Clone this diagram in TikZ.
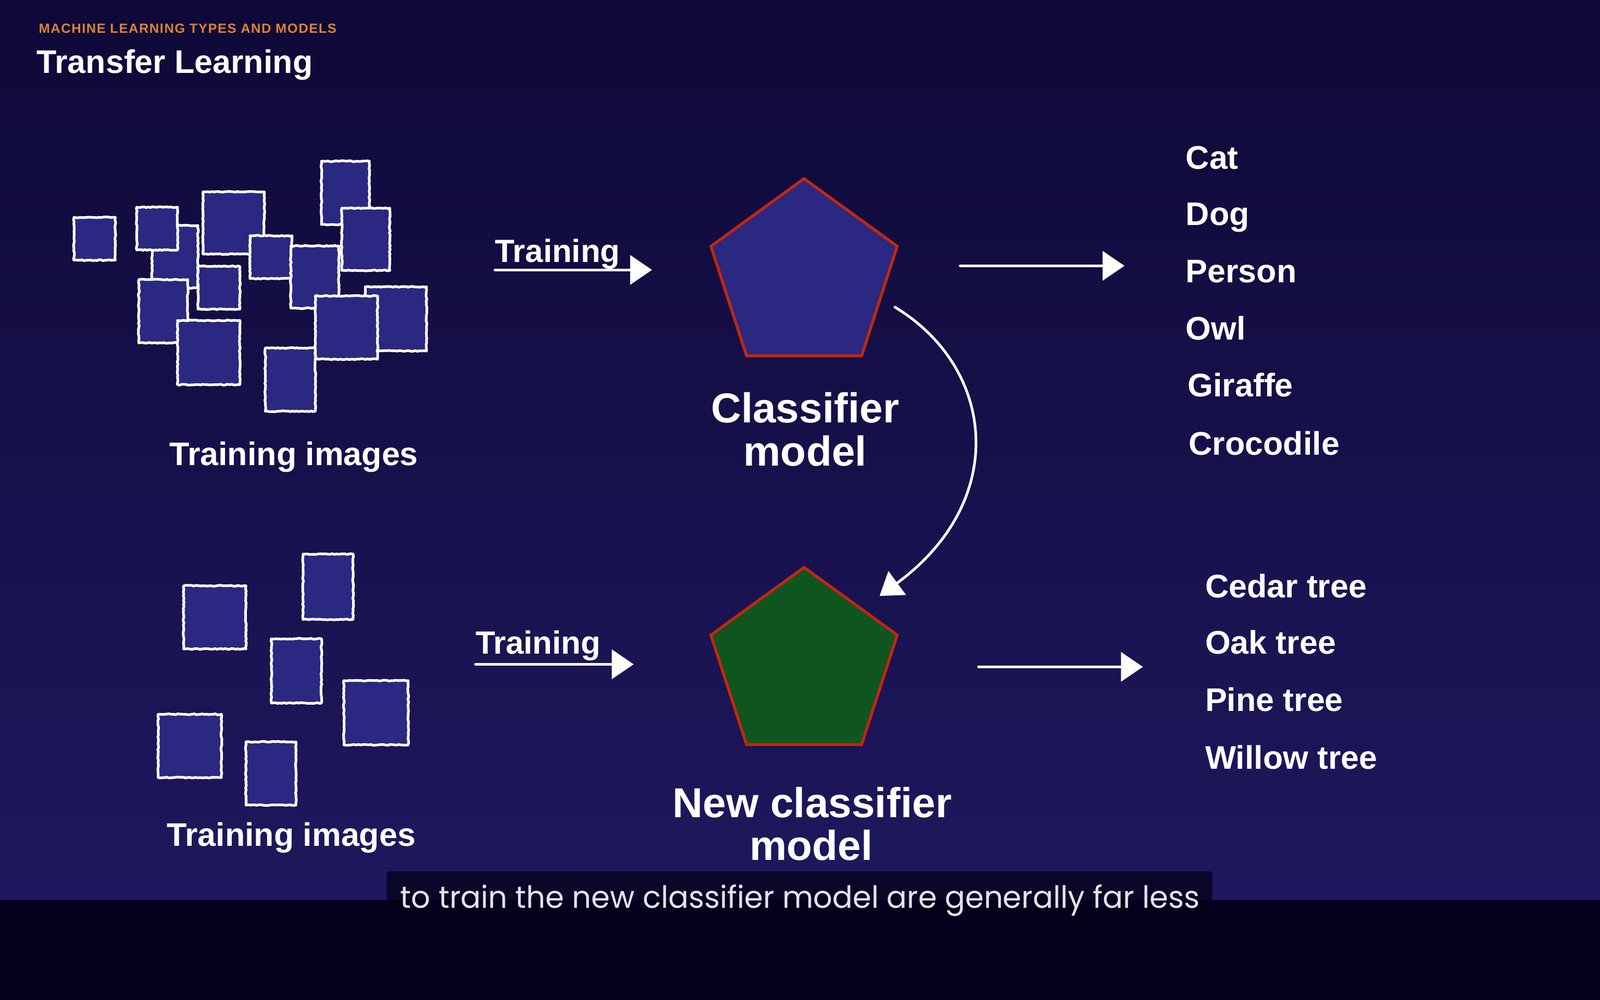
\documentclass[tikz,border=0pt]{standalone}
\usepackage{fontspec}
\setmainfont{Liberation Sans}
\newfontfamily\capfont[FakeStretch=0.98]{Poppins}
\newfontfamily\subfont[LetterSpace=6]{Liberation Sans}
\usetikzlibrary{arrows.meta,shapes.geometric,decorations.pathmorphing}
\definecolor{bgtop}{HTML}{0E0937}
\definecolor{bgbot}{HTML}{1E185E}
\definecolor{band}{HTML}{03001B}
\definecolor{capbox}{HTML}{0A0728}
\definecolor{sqblue}{HTML}{2A2880}
\definecolor{pgreen}{HTML}{0F5520}
\definecolor{redb}{HTML}{C3260F}
\definecolor{orng}{HTML}{E0832E}
\definecolor{captxt}{HTML}{E4E3EE}
\tikzset{
  chalkline/.style={draw=white, line width=5pt, line join=round,
    decorate, decoration={random steps, segment length=4pt, amplitude=0.9pt}},
  chalkarrow/.style={draw=white, line width=5pt, line cap=round,
    -{Triangle[length=42pt,width=56pt]}},
  pent/.style={regular polygon, regular polygon sides=5, minimum size=376pt,
    inner sep=0pt, draw=redb, line width=5.5pt},
  lbl/.style={text=white, font=\fontsize{62.7pt}{66pt}\selectfont\bfseries, inner sep=0pt},
  big/.style={text=white, font=\fontsize{80.3pt}{84pt}\selectfont\bfseries, inner sep=0pt},
}
\newcommand\chalksq[4]{%
  \fill[sqblue] (#1,#2) rectangle (#3,#4);
  \path[chalkline] (#1,#2) rectangle (#3,#4);}
\begin{document}
\begin{tikzpicture}[x=1.959pt,y=-1.959pt]
\useasboundingbox (0,0) rectangle (1568,980);
% background
\shade[top color=bgtop, bottom color=bgbot] (0,0) rectangle (1568,882);
\fill[band] (0,882) rectangle (1568,980);
% header
\node[anchor=base west, inner sep=0pt, text=orng,
  font=\fontsize{25.5pt}{27pt}\subfont\bfseries] (sub) at (38,32.3)
  {MACHINE LEARNING TYPES AND MODELS};
\node[anchor=base west, inner sep=0pt, text=white,
  font=\fontsize{62.7pt}{66pt}\selectfont\bfseries] (title) at (36,71.5)
  {Transfer Learning};
% top cluster of training images
\chalksq{72.5}{213}{113}{255}
\chalksq{149}{221}{194}{282}
\chalksq{134}{203}{174}{245}
\chalksq{199}{188}{259}{249}
\chalksq{245}{231}{286}{273}
\chalksq{194}{261}{235}{303}
\chalksq{136}{274}{184}{336}
\chalksq{174}{314}{235}{377}
\chalksq{315}{158}{362}{220}
\chalksq{335}{204}{382}{265}
\chalksq{285}{241}{332}{302}
\chalksq{358}{281}{418}{344}
\chalksq{309}{290}{370}{352}
\chalksq{260}{341}{309}{403}
\node[lbl, anchor=base west] (timg1) at (166,456) {Training images};
% bottom cluster of training images
\chalksq{180}{574}{241}{636}
\chalksq{297}{543}{346}{607}
\chalksq{266}{626}{315}{689}
\chalksq{337}{667}{400}{730}
\chalksq{155}{700}{217}{762}
\chalksq{241}{727}{290}{789}
\node[lbl, anchor=base west] (timg2) at (163.5,829) {Training images};
% training arrows
\node[lbl, anchor=base west, font=\fontsize{61.7pt}{64pt}\selectfont\bfseries] (tr1) at (485,257) {Training};
\coordinate (t1s) at (485,264.5);
\coordinate (t1e) at (639,264.5);
\draw[chalkarrow] (t1s) -- (t1e);
\node[lbl, anchor=base west, font=\fontsize{61.7pt}{64pt}\selectfont\bfseries] (tr2) at (466,641) {Training};
\coordinate (t2s) at (466,651);
\coordinate (t2e) at (621,651);
\draw[chalkarrow] (t2s) -- (t2e);
% classifier pentagons
\node[pent, fill=sqblue] (clf) at (788,271) {};
\node[pent, fill=pgreen] (nclf) at (788,652) {};
\node[big, anchor=base] (clfa) at (789,414) {Classifier};
\node[big, anchor=base] (clfb) at (789,456.4) {model};
\node[big, anchor=base] (nclfa) at (796,801) {New classifier};
\node[big, anchor=base] (nclfb) at (795,843) {model};
% transfer arrow
\coordinate (cs) at (877,301);
\coordinate (ce) at (862,584);
\draw[chalkarrow] (cs) .. controls (975,360) and (990,490) .. (ce);
% output arrows
\coordinate (o1s) at (941,260.5);
\coordinate (o1e) at (1102,260.5);
\draw[chalkarrow] (o1s) -- (o1e);
\coordinate (o2s) at (959,653.5);
\coordinate (o2e) at (1120,653.5);
\draw[chalkarrow] (o2s) -- (o2e);
% class lists
\node[lbl, anchor=base west] (cat) at (1162,165.5) {Cat};
\node[lbl, anchor=base west] (dog) at (1162,221) {Dog};
\node[lbl, anchor=base west] (person) at (1162,277) {Person};
\node[lbl, anchor=base west] (owl) at (1162,333) {Owl};
\node[lbl, anchor=base west] (giraffe) at (1164,388.6) {Giraffe};
\node[lbl, anchor=base west] (croc) at (1165,445.6) {Crocodile};
\node[lbl, anchor=base west] (cedar) at (1181,585.5) {Cedar tree};
\node[lbl, anchor=base west] (oak) at (1181,641) {Oak tree};
\node[lbl, anchor=base west] (pine) at (1181,697) {Pine tree};
\node[lbl, anchor=base west] (willow) at (1181,753.5) {Willow tree};
% caption
\fill[capbox, rounded corners=4pt] (379,882) -- (379,854) -- (1188,854) -- (1188,882) -- cycle;
\node[anchor=base, inner sep=0pt, text=captxt,
  font=\fontsize{58.8pt}{62pt}\capfont] (cap) at (784,890)
  {to train the new classifier model are generally far less};
\end{tikzpicture}
\end{document}
